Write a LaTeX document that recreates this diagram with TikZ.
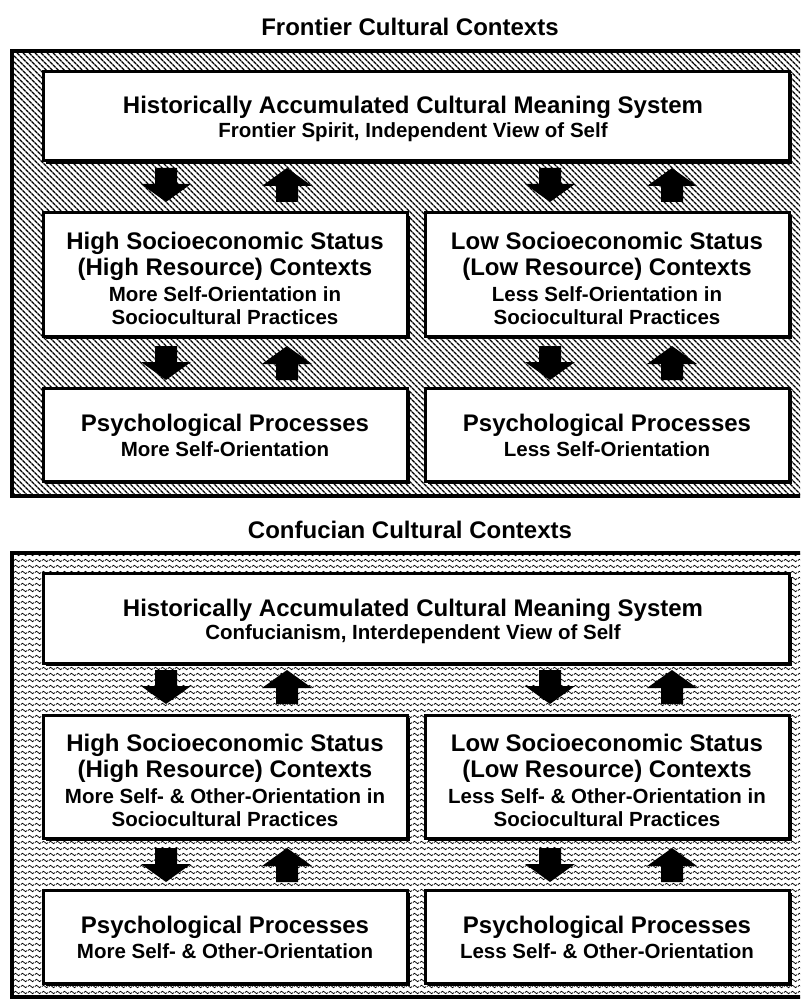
\documentclass[tikz,border=0pt]{standalone}
\usepackage{fontspec}
\setmainfont{Liberation Sans}
\usetikzlibrary{patterns,patterns.meta,shadows}
\pgfdeclarepatternformonly{wavy}{\pgfpointorigin}{\pgfpoint{7pt}{5.5pt}}{\pgfpoint{7pt}{5.5pt}}{%
  \pgfsetlinewidth{0.8pt}%
  \pgfpathmoveto{\pgfpoint{0pt}{2.75pt}}%
  \pgfpathcurveto{\pgfpoint{1.15pt}{4.5pt}}{\pgfpoint{2.35pt}{4.5pt}}{\pgfpoint{3.5pt}{2.75pt}}%
  \pgfpathcurveto{\pgfpoint{4.65pt}{1pt}}{\pgfpoint{5.85pt}{1pt}}{\pgfpoint{7pt}{2.75pt}}%
  \pgfusepath{stroke}%
}
\tikzset{
  frame/.style={draw, line width=4pt},
  hatchfill/.style={pattern={Lines[angle=-45,distance=4pt,line width=1.4pt]}},
  wavyfill/.style={pattern=wavy},
  box/.style={draw, line width=3pt, fill=white, inner sep=0pt,
    drop shadow={shadow xshift=3pt, shadow yshift=-3pt, opacity=1, fill=black}},
  ttl/.style={font=\fontsize{24}{28}\selectfont\bfseries, anchor=base},
  hd/.style={font=\fontsize{24}{28}\selectfont\bfseries, anchor=base},
  sub/.style={font=\fontsize{20.5}{24}\selectfont\bfseries, anchor=base},
  downarr/.pic={\fill (-11,0) -- (11,0) -- (11,16) -- (25,16) -- (0,34) -- (-25,16) -- (-11,16) -- cycle;},
  uparr/.pic={\fill (-11,34) -- (11,34) -- (11,18) -- (25,18) -- (0,0) -- (-25,18) -- (-11,18) -- cycle;}
}
\begin{document}
\begin{tikzpicture}[x=1pt,y=-1pt]
\useasboundingbox (0,0) rectangle (800,1000);
\clip (0,0) rectangle (800,1000);
\fill[white] (0,0) rectangle (800,1000);

% ---------- Frontier ----------
\node[ttl] (t1) at (410,36) {Frontier Cultural Contexts};
\fill[white] (12,51) rectangle (812,496);
\path[hatchfill] (12,51) rectangle (812,496);
\draw[frame] (12,51) rectangle (812,496);

\node[box, minimum width=746pt, minimum height=89.5pt] (top1) at (416,116.25) {};
\node[hd] (top1a) at (413,114) {Historically Accumulated Cultural Meaning System};
\node[sub] (top1b) at (413,137.5) {Frontier Spirit, Independent View of Self};

\pic (d1l) at (166,168) {downarr};
\pic (u1l) at (287,168) {uparr};
\pic (d1r) at (550,168) {downarr};
\pic (u1r) at (672,168) {uparr};

\node[box, minimum width=364pt, minimum height=123pt] (mid1l) at (225,274.5) {};
\node[hd] at (225,249) {High Socioeconomic Status};
\node[hd] at (225,275.5) {(High Resource) Contexts};
\node[sub] at (225,301) {More Self-Orientation in};
\node[sub] at (225,324) {Sociocultural Practices};

\node[box, minimum width=364pt, minimum height=123pt] (mid1r) at (607,274.5) {};
\node[hd] at (607,249) {Low Socioeconomic Status};
\node[hd] at (607,275.5) {(Low Resource) Contexts};
\node[sub] at (607,301) {Less Self-Orientation in};
\node[sub] at (607,324) {Sociocultural Practices};

\pic (d2l) at (166,346) {downarr};
\pic (u2l) at (287,346) {uparr};
\pic (d2r) at (550,346) {downarr};
\pic (u2r) at (672,346) {uparr};

\node[box, minimum width=364pt, minimum height=93pt] (bot1l) at (225,434.5) {};
\node[hd] at (225,431) {Psychological Processes};
\node[sub] at (225,456) {More Self-Orientation};
\node[box, minimum width=364pt, minimum height=93pt] (bot1r) at (607,434.5) {};
\node[hd] at (607,431) {Psychological Processes};
\node[sub] at (607,456) {Less Self-Orientation};

% ---------- Confucian ----------
\node[ttl] (t2) at (410,538) {Confucian Cultural Contexts};
\fill[white] (12,553) rectangle (812,997);
\path[wavyfill] (12,553) rectangle (812,997);
\draw[frame] (12,553) rectangle (812,997);

\node[box, minimum width=746pt, minimum height=89.5pt] (top2) at (416,618.25) {};
\node[hd] at (413,616) {Historically Accumulated Cultural Meaning System};
\node[sub] at (413,639.5) {Confucianism, Interdependent View of Self};

\pic (d3l) at (166,670) {downarr};
\pic (u3l) at (287,670) {uparr};
\pic (d3r) at (550,670) {downarr};
\pic (u3r) at (672,670) {uparr};

\node[box, minimum width=364pt, minimum height=123pt] (mid2l) at (225,776.5) {};
\node[hd] at (225,751) {High Socioeconomic Status};
\node[hd] at (225,777.5) {(High Resource) Contexts};
\node[sub] at (225,803) {More Self- \& Other-Orientation in};
\node[sub] at (225,826) {Sociocultural Practices};

\node[box, minimum width=364pt, minimum height=123pt] (mid2r) at (607,776.5) {};
\node[hd] at (607,751) {Low Socioeconomic Status};
\node[hd] at (607,777.5) {(Low Resource) Contexts};
\node[sub] at (607,803) {Less Self- \& Other-Orientation in};
\node[sub] at (607,826) {Sociocultural Practices};

\pic (d4l) at (166,848) {downarr};
\pic (u4l) at (287,848) {uparr};
\pic (d4r) at (550,848) {downarr};
\pic (u4r) at (672,848) {uparr};

\node[box, minimum width=364pt, minimum height=93pt] (bot2l) at (225,936.5) {};
\node[hd] at (225,933) {Psychological Processes};
\node[sub] at (225,958) {More Self- \& Other-Orientation};
\node[box, minimum width=364pt, minimum height=93pt] (bot2r) at (607,936.5) {};
\node[hd] at (607,933) {Psychological Processes};
\node[sub] at (607,958) {Less Self- \& Other-Orientation};
\end{tikzpicture}
\end{document}
